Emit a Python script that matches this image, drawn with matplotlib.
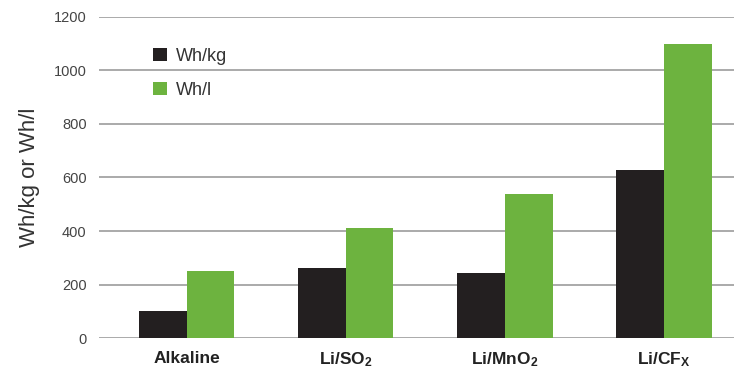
import numpy as np
import matplotlib.pyplot as plt

plt.rcParams['font.family'] = ['Liberation Sans', 'DejaVu Sans']
plt.rcParams['mathtext.default'] = 'regular'

chemistries = ['Alkaline', 'Li/SO$_2$', 'Li/MnO$_2$', 'Li/CF$_X$']
wh_kg = [100, 262, 243, 628]
wh_l = [250, 411, 538, 1100]

x = np.arange(len(chemistries))
w = 0.3

fig = plt.figure(figsize=(7.34, 3.74), dpi=100)
ax = fig.add_axes([0.135, 0.096, 0.865, 0.859])

ax.bar(x - w / 2, wh_kg, w, color='#231f20', label='Wh/kg', zorder=3)
ax.bar(x + w / 2, wh_l, w, color='#6db33f', label='Wh/l', zorder=3)

ax.set_ylim(0, 1200)
ax.set_xlim(-0.55, 3.44)
ax.set_yticks(range(0, 1201, 200))
ax.yaxis.grid(True, color='#aaaaaa', linewidth=1.4, zorder=0)
ax.set_axisbelow(True)
for s in ax.spines.values():
    s.set_visible(False)

ax.set_xticks(x)
ax.set_xticklabels(chemistries, fontsize=12.5, fontweight='bold', color='#222222')
ax.tick_params(axis='both', length=0)
ax.tick_params(axis='y', labelsize=10.5, labelcolor='#444444', pad=9)
ax.tick_params(axis='x', pad=9)
ax.set_ylabel('Wh/kg or Wh/l', fontsize=16, color='#333333', labelpad=10)

ax.legend(loc='upper left', bbox_to_anchor=(0.06, 0.955), frameon=False,
          fontsize=13, handlelength=0.75, handleheight=0.75, handletextpad=0.5,
          labelspacing=0.95, labelcolor='#333333')

fig.savefig('out.png', dpi=100)
